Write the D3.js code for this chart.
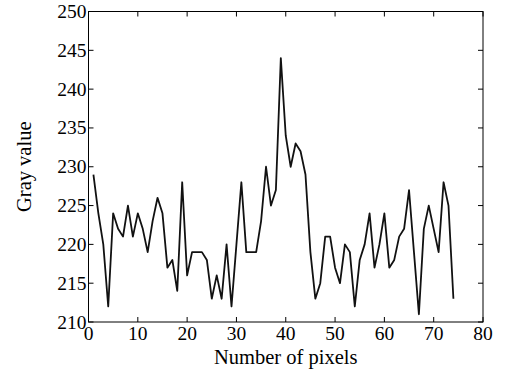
<!DOCTYPE html>
<html lang="en">
<meta charset="utf-8">
<head>
	<title>Gray value profile</title>
</head>
<style type="text/css">
	body { margin: 0; background: white; }
	.tickLabel {
		font-family: 'Liberation Serif', 'Times New Roman', serif;
		font-size: 19.5px;
		fill: black;
	}
	.axisTitle {
		font-family: 'Liberation Serif', 'Times New Roman', serif;
		font-size: 20.5px;
		fill: black;
	}
	.profile {
		fill: none;
		stroke: #111;
		stroke-width: 1.8;
		stroke-linejoin: round;
	}
</style>
<script src="https://d3js.org/d3.v7.min.js"></script>
<body>
	<script type="text/javascript">

		// pixel positions along the sampled line
		var pixels = d3.range(1, 75);
		// gray values
		var grayValues = [229, 224, 220, 212, 224, 222, 221, 225, 221, 224,
			222, 219, 223, 226, 224, 217, 218, 214, 228, 216,
			219, 219, 219, 218, 213, 216, 213, 220, 212, 220,
			228, 219, 219, 219, 223, 230, 225, 227, 244, 234,
			230, 233, 232, 229, 219, 213, 215, 221, 221, 217,
			215, 220, 219, 212, 218, 220, 224, 217, 220, 224,
			217, 218, 221, 222, 227, 219, 211, 222, 225, 222,
			219, 228, 225, 213];
		var xTicks = [0, 10, 20, 30, 40, 50, 60, 70, 80];
		var yTicks = [210, 215, 220, 225, 230, 235, 240, 245, 250];

		var canvasWidth = 505,
			canvasHeight = 376,
			plotLeft = 88.5,
			plotRight = 483,
			plotTop = 11.5,
			plotBottom = 322,
			tickLen = 5;

		var svg = d3.select("body")
					.append("svg")
					.attr("width", canvasWidth)
					.attr("height", canvasHeight);

		var x = d3.scaleLinear().domain([0, 80]).range([plotLeft, plotRight]);
		var y = d3.scaleLinear().domain([210, 250]).range([plotBottom, plotTop]);

		// box
		svg.append("rect")
		   .attr("x", plotLeft)
		   .attr("y", plotTop)
		   .attr("width", plotRight - plotLeft)
		   .attr("height", plotBottom - plotTop)
		   .attr("fill", "none")
		   .attr("stroke", "black")
		   .attr("stroke-width", 1);

		// inward ticks on all four sides
		xTicks.forEach(function(t) {
			svg.append("line").attr("x1", x(t)).attr("x2", x(t))
			   .attr("y1", plotBottom).attr("y2", plotBottom - tickLen).attr("stroke", "black");
			svg.append("line").attr("x1", x(t)).attr("x2", x(t))
			   .attr("y1", plotTop).attr("y2", plotTop + tickLen).attr("stroke", "black");
			svg.append("text")
			   .attr("class", "tickLabel")
			   .attr("text-anchor", "middle")
			   .attr("x", x(t))
			   .attr("y", plotBottom + 18)
			   .text(t);
		});

		yTicks.forEach(function(t) {
			svg.append("line").attr("x1", plotLeft).attr("x2", plotLeft + tickLen)
			   .attr("y1", y(t)).attr("y2", y(t)).attr("stroke", "black");
			svg.append("line").attr("x1", plotRight).attr("x2", plotRight - tickLen)
			   .attr("y1", y(t)).attr("y2", y(t)).attr("stroke", "black");
			svg.append("text")
			   .attr("class", "tickLabel")
			   .attr("text-anchor", "end")
			   .attr("x", plotLeft - 2)
			   .attr("y", y(t) + 6.5)
			   .text(t);
		});

		var line = d3.line()
					 .x(function(d, i) { return x(pixels[i]); })
					 .y(function(d) { return y(d); });

		svg.append("path")
		   .datum(grayValues)
		   .attr("class", "profile")
		   .attr("d", line);

		// axis titles
		svg.append("text")
		   .attr("class", "axisTitle")
		   .attr("text-anchor", "middle")
		   .attr("x", (plotLeft + plotRight) / 2)
		   .attr("y", 364)
		   .text("Number of pixels");

		svg.append("text")
		   .attr("class", "axisTitle")
		   .attr("text-anchor", "middle")
		   .attr("transform", "translate(31," + (plotTop + plotBottom) / 2 + ")rotate(-90)")
		   .text("Gray value");

	</script>
</body>
</html>
